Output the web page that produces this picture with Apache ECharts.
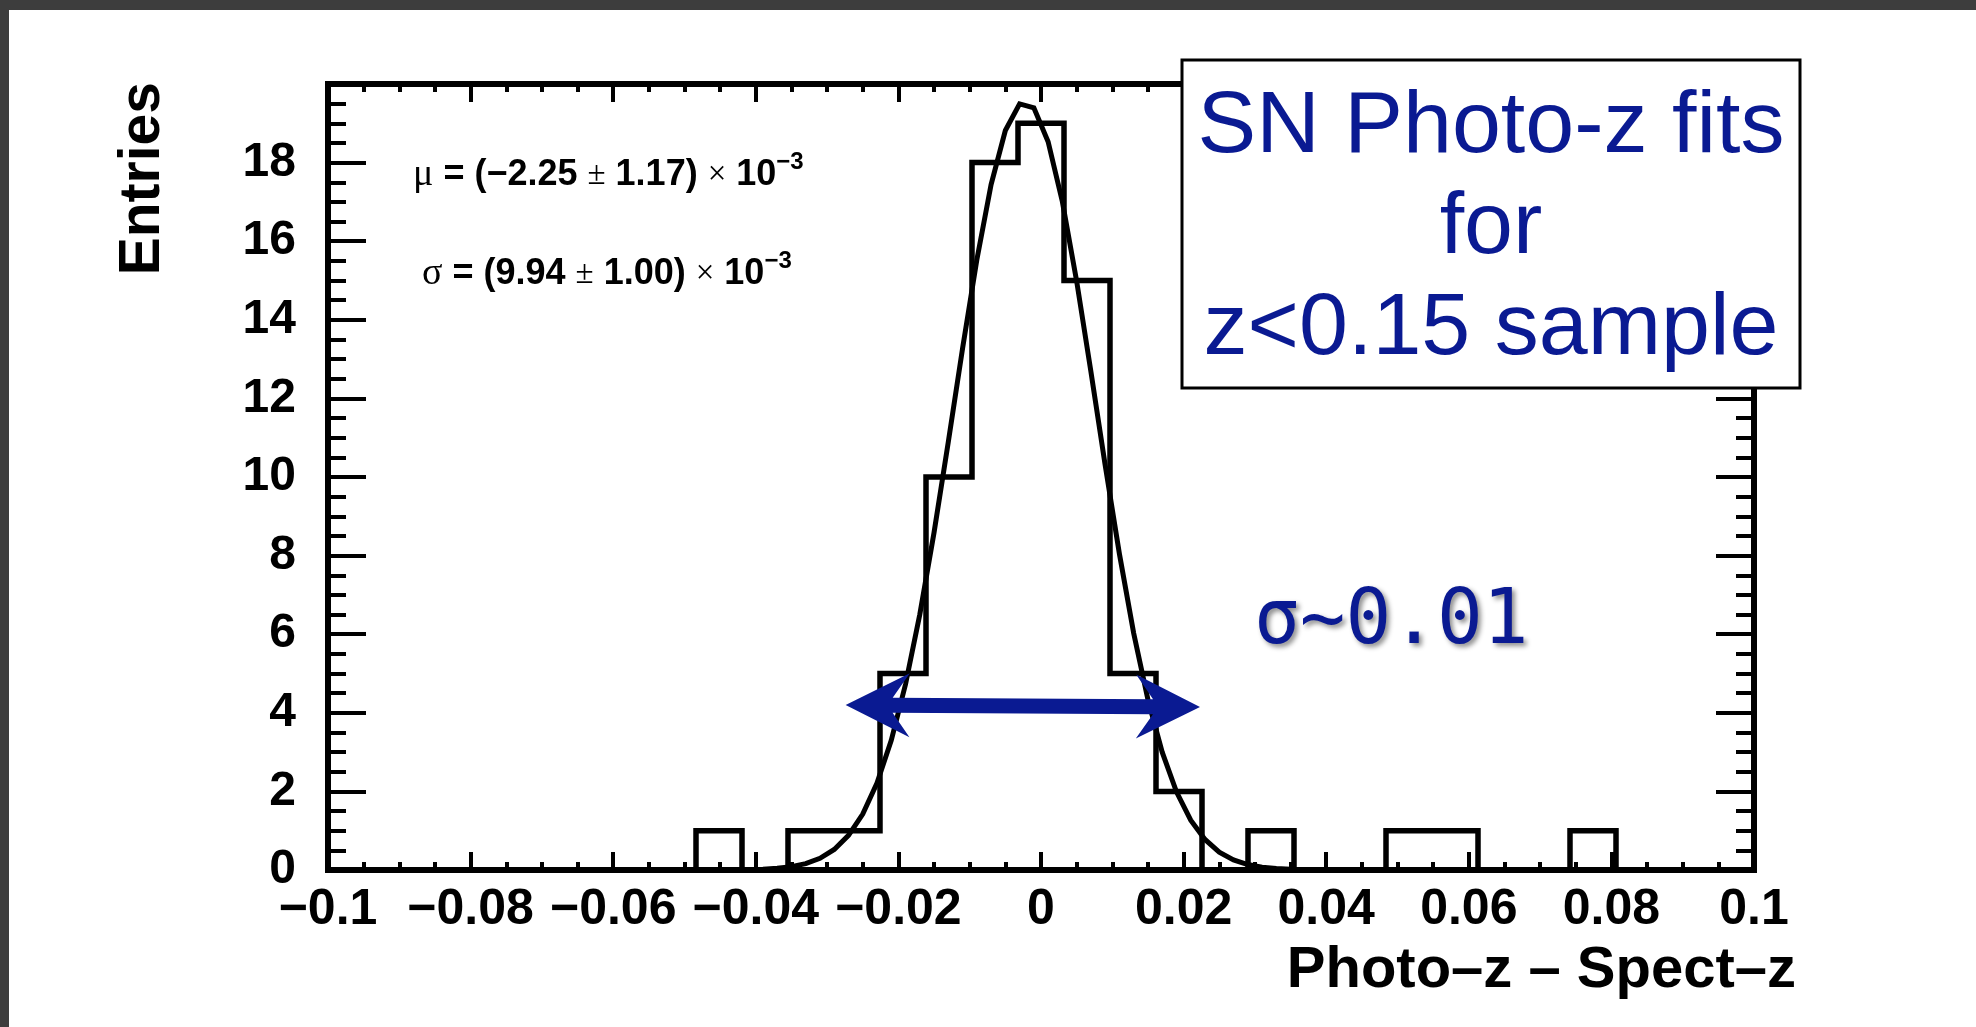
<!DOCTYPE html>
<html>
<head>
<meta charset="utf-8">
<title>SN Photo-z fits</title>
<script src="https://cdn.jsdelivr.net/npm/echarts@6/dist/echarts.min.js"></script>
<style>
  html, body { margin: 0; padding: 0; width: 1976px; height: 1027px; overflow: hidden; background: #3d3d3d; }
  #panel { position: absolute; left: 9px; top: 10px; right: 0; bottom: 0; background: #ffffff; }
  #chart { position: absolute; left: 0; top: 0; width: 1976px; height: 1027px; }
</style>
</head>
<body>
<div id="panel"></div>
<div id="chart"></div>
<script>
// ---- data ----------------------------------------------------------------
// Photo-z minus spectroscopic z, 31 equal bins over [-0.1, 0.1]
const xRange = [-0.1, 0.1];
const yRange = [0, 20];
const binCounts = [0, 0, 0, 0, 0, 0, 0, 0, 1, 0, 1, 1, 5, 10, 18, 19, 15, 5, 2, 0, 1, 0, 0, 1, 1, 0, 0, 1, 0, 0, 0];

// Gaussian fit result (value, error)
const fitMu = [-2.25e-3, 1.17e-3];
const fitSigma = [9.94e-3, 1.00e-3];
const fitPeak = 19.55;
const fitRange = [-0.041, 0.041];
const fitStep = 0.002;

// double arrow marking the width of the core, in data units [x1, y1, x2, y2]
const widthArrow = [[-0.0274, 4.2, 0.0223, 4.15]];

// ---- derived series ------------------------------------------------------
const binWidth = (xRange[1] - xRange[0]) / binCounts.length;
const histLine = binCounts.map((c, k) => [xRange[0] + k * binWidth, c]);
histLine.push([xRange[1], binCounts[binCounts.length - 1]]);

const fitCurve = [];
for (let x = fitRange[0]; x <= fitRange[1] + 1e-9; x += fitStep) {
  const z = (x - fitMu[0]) / fitSigma[0];
  fitCurve.push([x, fitPeak * Math.exp(-0.5 * z * z)]);
}

// ---- styling helpers -----------------------------------------------------
const BLUE = '#0a1a92';
const SANS = "'Liberation Sans', Arial, Helvetica, sans-serif";
const SERIF = "'Liberation Serif', 'Times New Roman', serif";
const MONO = "'DejaVu Sans Mono', 'Liberation Mono', monospace";

const fmtLabel = v => {
  const r = Math.round(v * 1000) / 1000;
  if (r === 0) return '0';
  return (r < 0 ? '\u2212' : '') + String(Math.abs(r));
};
const fmtE3 = v => (v * 1e3).toFixed(2).replace('-', '\u2212');

function xAxisCfg(position, labels) {
  return {
    type: 'value', position, min: xRange[0], max: xRange[1], interval: 0.02,
    axisLine: { show: true, onZero: false, lineStyle: { color: '#000', width: 6, cap: 'square' } },
    axisTick: { show: true, inside: true, length: 18, lineStyle: { color: '#000', width: 4 } },
    minorTick: { show: true, splitNumber: 4, length: 8, lineStyle: { color: '#000', width: 4 } },
    splitLine: { show: false },
    axisLabel: {
      show: labels, margin: 15, color: '#000', fontFamily: SANS, fontWeight: 'bold', fontSize: 50,
      formatter: fmtLabel
    }
  };
}
function yAxisCfg(position, labels) {
  return {
    type: 'value', position, min: yRange[0], max: yRange[1], interval: 2,
    axisLine: { show: true, onZero: false, lineStyle: { color: '#000', width: 6, cap: 'square' } },
    axisTick: { show: true, inside: true, length: 38, lineStyle: { color: '#000', width: 4 } },
    minorTick: { show: true, splitNumber: 4, length: 18, lineStyle: { color: '#000', width: 4 } },
    splitLine: { show: false },
    axisLabel: {
      show: labels, margin: 32, color: '#000', fontFamily: SANS, fontWeight: 'bold', fontSize: 48,
      formatter: v => (v >= yRange[1] ? '' : String(v))
    }
  };
}

const fitRich = {
  g: { fontFamily: SERIF, fontSize: 38, color: '#000', lineHeight: 50 },
  b: { fontFamily: SANS, fontWeight: 'bold', fontSize: 36, color: '#000', lineHeight: 50 },
  s: { fontFamily: SERIF, fontSize: 33, color: '#000', lineHeight: 50 },
  sup: { fontFamily: SANS, fontWeight: 'bold', fontSize: 24, color: '#000', verticalAlign: 'top' }
};
const muText = `{g|\u03bc}{b| = (${fmtE3(fitMu[0])} }{s|\u00b1}{b| ${fmtE3(fitMu[1])}) }{s|\u00d7}{b| 10}{sup|\u22123}`;
const sigmaText = `{g|\u03c3}{b| = (${fmtE3(fitSigma[0])} }{s|\u00b1}{b| ${fmtE3(fitSigma[1])}) }{s|\u00d7}{b| 10}{sup|\u22123}`;

// ---- chart ---------------------------------------------------------------
const chart = echarts.init(document.getElementById('chart'), null, { renderer: 'canvas' });

chart.setOption({
  animation: false,
  backgroundColor: 'transparent',
  grid: { left: 328, right: 222, top: 84, bottom: 157, containLabel: false },
  xAxis: [xAxisCfg('bottom', true), xAxisCfg('top', false)],
  yAxis: [yAxisCfg('left', true), yAxisCfg('right', false)],
  series: [
    {
      name: 'Entries', type: 'line', step: 'end', data: histLine,
      showSymbol: false, symbol: 'none', clip: false, z: 3,
      lineStyle: { color: '#000', width: 5.5, join: 'miter' }
    },
    {
      name: 'Gaussian fit', type: 'line', data: fitCurve,
      showSymbol: false, symbol: 'none', smooth: false, clip: false, z: 4,
      lineStyle: { color: '#000', width: 5, join: 'miter' }
    },
    {
      name: 'width', type: 'custom', data: widthArrow, clip: false, z: 5,
      encode: { x: [0, 2], y: [1, 3] },
      renderItem: (params, api) => {
        const p1 = api.coord([api.value(0), api.value(1)]);
        const p2 = api.coord([api.value(2), api.value(3)]);
        const dx = p2[0] - p1[0], dy = p2[1] - p1[1];
        const len = Math.hypot(dx, dy);
        const u = [dx / len, dy / len];
        const n = [u[1], -u[0]];
        const Lb = 64, Lj = 47, H = 32, T = 7.5;
        const at = (p, a, b) => [p[0] + u[0] * a + n[0] * b, p[1] + u[1] * a + n[1] * b];
        const pts = [
          p1, at(p1, Lb, H), at(p1, Lj, T), at(p2, -Lj, T), at(p2, -Lb, H),
          p2, at(p2, -Lb, -H), at(p2, -Lj, -T), at(p1, Lj, -T), at(p1, Lb, -H)
        ];
        return { type: 'polygon', shape: { points: pts }, style: { fill: BLUE } };
      }
    }
  ],
  graphic: [
    // fit parameters
    { type: 'text', x: 413, y: 175, z: 10, style: { text: muText, rich: fitRich, verticalAlign: 'middle' } },
    { type: 'text', x: 422, y: 274, z: 10, style: { text: sigmaText, rich: fitRich, verticalAlign: 'middle' } },
    // axis titles
    {
      type: 'text', x: 143, y: 82, rotation: Math.PI / 2, z: 10,
      style: { text: 'Entries', fontFamily: SANS, fontWeight: 'bold', fontSize: 57, fill: '#000', align: 'right', verticalAlign: 'middle' }
    },
    {
      type: 'text', x: 1796, y: 971, z: 10,
      style: { text: 'Photo\u2013z \u2013 Spect\u2013z', fontFamily: SANS, fontWeight: 'bold', fontSize: 58, fill: '#000', align: 'right', verticalAlign: 'middle' }
    },
    // sample description box
    {
      type: 'rect', z: 20, shape: { x: 1182, y: 60, width: 618, height: 328 },
      style: { fill: '#fff', stroke: '#000', lineWidth: 3 }
    },
    {
      type: 'text', x: 1491, y: 128, z: 21,
      style: { text: 'SN Photo-z fits', fontFamily: SANS, fontSize: 88, fill: BLUE, align: 'center', verticalAlign: 'middle' }
    },
    {
      type: 'text', x: 1491, y: 229, z: 21,
      style: { text: 'for', fontFamily: SANS, fontSize: 88, fill: BLUE, align: 'center', verticalAlign: 'middle' }
    },
    {
      type: 'text', x: 1491, y: 330, z: 21,
      style: { text: 'z<0.15 sample', fontFamily: SANS, fontSize: 88, fill: BLUE, align: 'center', verticalAlign: 'middle' }
    },
    // width annotation
    {
      type: 'text', x: 1254, y: 623, z: 10,
      style: {
        text: '\u03c3~0.01', fontFamily: MONO, fontSize: 76, fill: BLUE, align: 'left', verticalAlign: 'middle',
        textShadowColor: 'rgba(0,0,0,0.45)', textShadowBlur: 5, textShadowOffsetX: 3, textShadowOffsetY: 3
      }
    }
  ]
});
</script>
</body>
</html>
